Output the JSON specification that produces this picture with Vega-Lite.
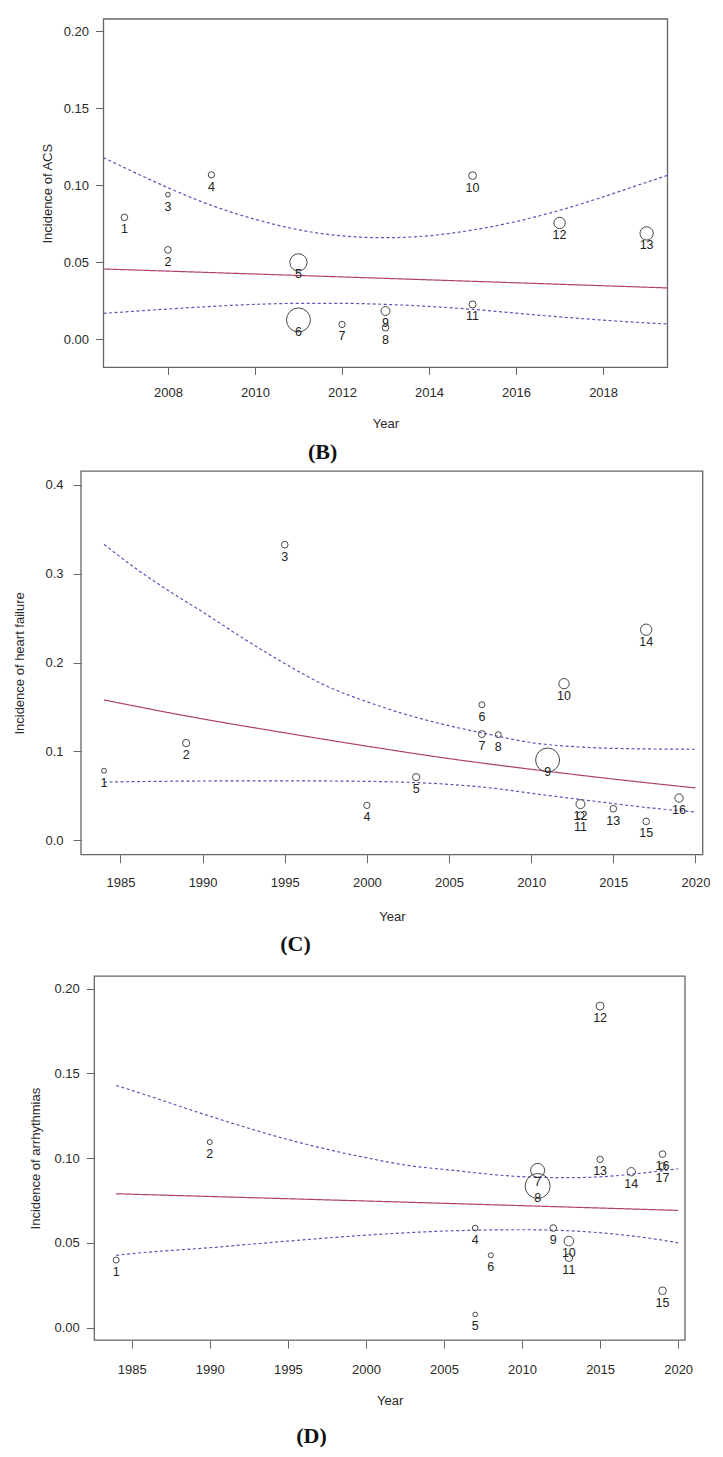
{
  "$schema": "https://vega.github.io/schema/vega-lite/v6.json",
  "background": "white",
  "padding": {"left": 13, "top": 18, "right": 0, "bottom": 0},
  "spacing": 0,
  "config": {
    "view": {"stroke": null, "fill": "white"},
    "axis": {"labelFont": "Liberation Sans", "labelFontSize": 13, "labelColor": "#2a2a2a", "titleFont": "Liberation Sans", "titleFontSize": 13, "titleFontWeight": "normal", "titleColor": "#2a2a2a", "tickColor": "#666666", "tickWidth": 1, "domain": false, "grid": false, "labelFlush": false, "labelOverlap": false},
    "title": {"font": "Liberation Serif", "fontSize": 22, "fontWeight": "bold", "color": "#111111"}
  },
  "resolve": {"scale": {"x": "independent", "y": "independent", "size": "independent", "color": "independent", "strokeDash": "independent"}},
  "datasets": {
    "B_pts": [
      {"id": "1", "year": 2007, "inc": 0.0792, "weight": 2.8},
      {"id": "2", "year": 2008, "inc": 0.0581, "weight": 2.8},
      {"id": "3", "year": 2008, "inc": 0.094, "weight": 1.4},
      {"id": "4", "year": 2009, "inc": 0.1068, "weight": 2.5},
      {"id": "5", "year": 2011, "inc": 0.05, "weight": 18.6},
      {"id": "6", "year": 2011, "inc": 0.0126, "weight": 35.9},
      {"id": "7", "year": 2012, "inc": 0.0097, "weight": 2.5},
      {"id": "8", "year": 2013, "inc": 0.0076, "weight": 2.8},
      {"id": "9", "year": 2013, "inc": 0.0184, "weight": 5.0},
      {"id": "10", "year": 2015, "inc": 0.1063, "weight": 3.7},
      {"id": "11", "year": 2015, "inc": 0.0227, "weight": 3.1},
      {"id": "12", "year": 2017, "inc": 0.0756, "weight": 8.0},
      {"id": "13", "year": 2019, "inc": 0.0688, "weight": 11.0}
    ],
    "B_lines": [
      {"series": "fit", "year": 2006.52, "inc": 0.0457},
      {"series": "fit", "year": 2013, "inc": 0.0396},
      {"series": "fit", "year": 2019.48, "inc": 0.0334},
      {"series": "upper", "year": 2006.52, "inc": 0.118},
      {"series": "upper", "year": 2007, "inc": 0.1115},
      {"series": "upper", "year": 2008, "inc": 0.0985},
      {"series": "upper", "year": 2009, "inc": 0.087},
      {"series": "upper", "year": 2010, "inc": 0.078},
      {"series": "upper", "year": 2011, "inc": 0.0712},
      {"series": "upper", "year": 2012, "inc": 0.0672},
      {"series": "upper", "year": 2013, "inc": 0.066},
      {"series": "upper", "year": 2014, "inc": 0.0673},
      {"series": "upper", "year": 2015, "inc": 0.071},
      {"series": "upper", "year": 2016, "inc": 0.0765},
      {"series": "upper", "year": 2017, "inc": 0.0838},
      {"series": "upper", "year": 2018, "inc": 0.0925},
      {"series": "upper", "year": 2019, "inc": 0.102},
      {"series": "upper", "year": 2019.48, "inc": 0.1065},
      {"series": "lower", "year": 2006.52, "inc": 0.0169},
      {"series": "lower", "year": 2007, "inc": 0.0178},
      {"series": "lower", "year": 2008, "inc": 0.0197},
      {"series": "lower", "year": 2009, "inc": 0.0214},
      {"series": "lower", "year": 2010, "inc": 0.0227},
      {"series": "lower", "year": 2011, "inc": 0.0234},
      {"series": "lower", "year": 2012, "inc": 0.0234},
      {"series": "lower", "year": 2013, "inc": 0.0227},
      {"series": "lower", "year": 2014, "inc": 0.0214},
      {"series": "lower", "year": 2015, "inc": 0.0195},
      {"series": "lower", "year": 2016, "inc": 0.017},
      {"series": "lower", "year": 2017, "inc": 0.0146},
      {"series": "lower", "year": 2018, "inc": 0.0125},
      {"series": "lower", "year": 2019, "inc": 0.0107},
      {"series": "lower", "year": 2019.48, "inc": 0.01}
    ],
    "C_pts": [
      {"id": "1", "year": 1984, "inc": 0.0784, "weight": 1.7},
      {"id": "2", "year": 1989, "inc": 0.1095, "weight": 3.7},
      {"id": "3", "year": 1995, "inc": 0.3326, "weight": 3.1},
      {"id": "4", "year": 2000, "inc": 0.0394, "weight": 2.8},
      {"id": "5", "year": 2003, "inc": 0.0712, "weight": 3.7},
      {"id": "6", "year": 2007, "inc": 0.1526, "weight": 2.5},
      {"id": "7", "year": 2007, "inc": 0.1196, "weight": 3.4},
      {"id": "8", "year": 2008, "inc": 0.1189, "weight": 2.5},
      {"id": "9", "year": 2011, "inc": 0.0904, "weight": 40.1},
      {"id": "10", "year": 2012, "inc": 0.1763, "weight": 7.4},
      {"id": "11", "year": 2013, "inc": 0.0281, "weight": 3.4},
      {"id": "12", "year": 2013, "inc": 0.0408, "weight": 5.6},
      {"id": "13", "year": 2015, "inc": 0.0356, "weight": 3.1},
      {"id": "14", "year": 2017, "inc": 0.237, "weight": 8.9},
      {"id": "15", "year": 2017, "inc": 0.0214, "weight": 3.1},
      {"id": "16", "year": 2019, "inc": 0.0476, "weight": 4.8}
    ],
    "C_lines": [
      {"series": "fit", "year": 1984, "inc": 0.158},
      {"series": "fit", "year": 1989, "inc": 0.14},
      {"series": "fit", "year": 1995, "inc": 0.121},
      {"series": "fit", "year": 2000, "inc": 0.106},
      {"series": "fit", "year": 2005, "inc": 0.092},
      {"series": "fit", "year": 2010, "inc": 0.08},
      {"series": "fit", "year": 2015, "inc": 0.069},
      {"series": "fit", "year": 2020, "inc": 0.059},
      {"series": "upper", "year": 1984, "inc": 0.333},
      {"series": "upper", "year": 1986, "inc": 0.305},
      {"series": "upper", "year": 1988, "inc": 0.28},
      {"series": "upper", "year": 1990, "inc": 0.257},
      {"series": "upper", "year": 1992.5, "inc": 0.227},
      {"series": "upper", "year": 1995, "inc": 0.199},
      {"series": "upper", "year": 1997.5, "inc": 0.174},
      {"series": "upper", "year": 2000, "inc": 0.156},
      {"series": "upper", "year": 2002.5, "inc": 0.141},
      {"series": "upper", "year": 2005, "inc": 0.129},
      {"series": "upper", "year": 2007, "inc": 0.121},
      {"series": "upper", "year": 2010, "inc": 0.11},
      {"series": "upper", "year": 2013, "inc": 0.105},
      {"series": "upper", "year": 2015, "inc": 0.1035},
      {"series": "upper", "year": 2020, "inc": 0.1025},
      {"series": "lower", "year": 1984, "inc": 0.0656},
      {"series": "lower", "year": 1990, "inc": 0.0668},
      {"series": "lower", "year": 1995, "inc": 0.067},
      {"series": "lower", "year": 2000, "inc": 0.0664},
      {"series": "lower", "year": 2003, "inc": 0.065},
      {"series": "lower", "year": 2005, "inc": 0.063},
      {"series": "lower", "year": 2008, "inc": 0.058},
      {"series": "lower", "year": 2010, "inc": 0.053},
      {"series": "lower", "year": 2013, "inc": 0.046},
      {"series": "lower", "year": 2015, "inc": 0.0415},
      {"series": "lower", "year": 2017, "inc": 0.037},
      {"series": "lower", "year": 2020, "inc": 0.032}
    ],
    "D_pts": [
      {"id": "1", "year": 1984, "inc": 0.0399, "weight": 2.4},
      {"id": "2", "year": 1990, "inc": 0.1095, "weight": 1.7},
      {"id": "4", "year": 2007, "inc": 0.0588, "weight": 2.2},
      {"id": "5", "year": 2007, "inc": 0.0078, "weight": 1.5},
      {"id": "6", "year": 2008, "inc": 0.0427, "weight": 1.7},
      {"id": "7", "year": 2011, "inc": 0.0928, "weight": 13.2},
      {"id": "8", "year": 2011, "inc": 0.0836, "weight": 42.2},
      {"id": "9", "year": 2012, "inc": 0.0588, "weight": 3.0},
      {"id": "10", "year": 2013, "inc": 0.0511, "weight": 6.3},
      {"id": "11", "year": 2013, "inc": 0.0413, "weight": 4.0},
      {"id": "12", "year": 2015, "inc": 0.1897, "weight": 4.3},
      {"id": "13", "year": 2015, "inc": 0.0993, "weight": 2.7},
      {"id": "14", "year": 2017, "inc": 0.092, "weight": 4.7},
      {"id": "15", "year": 2019, "inc": 0.0218, "weight": 4.0},
      {"id": "16", "year": 2019, "inc": 0.1024, "weight": 3.0},
      {"id": "17", "year": 2019, "inc": 0.0953, "weight": 3.0}
    ],
    "D_lines": [
      {"series": "fit", "year": 1984, "inc": 0.079},
      {"series": "fit", "year": 2002, "inc": 0.0742},
      {"series": "fit", "year": 2020, "inc": 0.0692},
      {"series": "upper", "year": 1984, "inc": 0.1429},
      {"series": "upper", "year": 1985, "inc": 0.14},
      {"series": "upper", "year": 1990, "inc": 0.1248},
      {"series": "upper", "year": 1995, "inc": 0.111},
      {"series": "upper", "year": 2000, "inc": 0.1003},
      {"series": "upper", "year": 2003, "inc": 0.0953},
      {"series": "upper", "year": 2005, "inc": 0.0934},
      {"series": "upper", "year": 2010, "inc": 0.0891},
      {"series": "upper", "year": 2013, "inc": 0.0885},
      {"series": "upper", "year": 2015, "inc": 0.089},
      {"series": "upper", "year": 2018, "inc": 0.0915},
      {"series": "upper", "year": 2020, "inc": 0.0938},
      {"series": "lower", "year": 1984, "inc": 0.0427},
      {"series": "lower", "year": 1985, "inc": 0.0437},
      {"series": "lower", "year": 1990, "inc": 0.0472},
      {"series": "lower", "year": 1995, "inc": 0.0511},
      {"series": "lower", "year": 2000, "inc": 0.0546},
      {"series": "lower", "year": 2005, "inc": 0.057},
      {"series": "lower", "year": 2010, "inc": 0.0578},
      {"series": "lower", "year": 2013, "inc": 0.0572},
      {"series": "lower", "year": 2015, "inc": 0.056},
      {"series": "lower", "year": 2018, "inc": 0.053},
      {"series": "lower", "year": 2020, "inc": 0.0501}
    ]
  },
  "vconcat": [
    {
      "width": 586.5,
      "height": 348.4,
      "title": {"text": "(B)", "orient": "bottom", "anchor": "start", "align": "center", "dx": 281.5, "offset": 11.5},
      "layer": [
        {
          "data": {"values": [{"x0": 2006.52, "x1": 2019.48, "y0": -0.0182, "y1": 0.208}]},
          "mark": {"type": "rect", "fill": "white", "fillOpacity": 0, "stroke": "#666666", "strokeWidth": 1.3},
          "encoding": {
            "x": {"field": "x0", "type": "quantitative", "scale": {"domain": [2006.52, 2019.48], "range": [22.5, 586.5], "nice": false, "zero": false},
                  "axis": {"title": "Year", "values": [2008, 2010, 2012, 2014, 2016, 2018], "format": "d", "tickSize": 7, "labelPadding": 12.4, "titlePadding": 18}},
            "x2": {"field": "x1"},
            "y": {"field": "y0", "type": "quantitative", "scale": {"domain": [-0.0182, 0.208], "nice": false, "zero": false},
                  "axis": {"title": "Incidence of ACS", "values": [0, 0.05, 0.1, 0.15, 0.2], "format": ".2f", "offset": -22.5, "tickSize": 8, "labelPadding": 7, "titlePadding": 9}},
            "y2": {"field": "y1"}
          }
        },
        {
          "data": {"name": "B_lines"},
          "mark": {"type": "line", "interpolate": "monotone", "strokeWidth": 1.2},
          "encoding": {
            "x": {"field": "year", "type": "quantitative"},
            "y": {"field": "inc", "type": "quantitative"},
            "color": {"field": "series", "type": "nominal", "scale": {"domain": ["fit", "lower", "upper"], "range": ["#b0406e", "#5858b8", "#5858b8"]}, "legend": null},
            "strokeDash": {"field": "series", "type": "nominal", "scale": {"domain": ["fit", "lower", "upper"], "range": [[1, 0], [3, 2.5], [3, 2.5]]}, "legend": null}
          }
        },
        {
          "data": {"name": "B_pts"},
          "mark": {"type": "point", "shape": "circle", "filled": false, "color": "#333333", "strokeWidth": 0.9, "opacity": 1},
          "encoding": {
            "x": {"field": "year", "type": "quantitative"},
            "y": {"field": "inc", "type": "quantitative"},
            "size": {"field": "weight", "type": "quantitative", "scale": {"type": "linear", "domain": [0, 35.9], "range": [0, 576], "zero": true}, "legend": null}
          }
        },
        {
          "data": {"name": "B_pts"},
          "mark": {"type": "text", "dy": 12, "baseline": "middle", "fontSize": 12.5, "font": "Liberation Sans", "fill": "#222222"},
          "encoding": {
            "x": {"field": "year", "type": "quantitative"},
            "y": {"field": "inc", "type": "quantitative"},
            "text": {"field": "id", "type": "nominal"}
          }
        }
      ]
    },
    {
      "width": 621.7,
      "height": 390.7,
      "title": {"text": "(C)", "orient": "bottom", "anchor": "start", "align": "center", "dx": 281.5, "offset": 10.2},
      "layer": [
        {
          "data": {"values": [{"x0": 1982.6, "x1": 2020.44, "y0": -0.0161, "y1": 0.4154}]},
          "mark": {"type": "rect", "fill": "white", "fillOpacity": 0, "stroke": "#666666", "strokeWidth": 1.3},
          "encoding": {
            "x": {"field": "x0", "type": "quantitative", "scale": {"domain": [1982.6, 2020.44], "nice": false, "zero": false},
                  "axis": {"title": "Year", "values": [1985, 1990, 1995, 2000, 2005, 2010, 2015, 2020], "format": "d", "tickSize": 8, "labelPadding": 14, "titlePadding": 21}},
            "x2": {"field": "x1"},
            "y": {"field": "y0", "type": "quantitative", "scale": {"domain": [-0.0161, 0.4154], "range": [390.7, 7.1], "nice": false, "zero": false},
                  "axis": {"title": "Incidence of heart failure", "values": [0, 0.1, 0.2, 0.3, 0.4], "format": ".1f", "tickSize": 8, "labelPadding": 10, "titlePadding": 18}},
            "y2": {"field": "y1"}
          }
        },
        {
          "data": {"name": "C_lines"},
          "mark": {"type": "line", "interpolate": "monotone", "strokeWidth": 1.2},
          "encoding": {
            "x": {"field": "year", "type": "quantitative"},
            "y": {"field": "inc", "type": "quantitative"},
            "color": {"field": "series", "type": "nominal", "scale": {"domain": ["fit", "lower", "upper"], "range": ["#b0406e", "#5858b8", "#5858b8"]}, "legend": null},
            "strokeDash": {"field": "series", "type": "nominal", "scale": {"domain": ["fit", "lower", "upper"], "range": [[1, 0], [3, 2.5], [3, 2.5]]}, "legend": null}
          }
        },
        {
          "data": {"name": "C_pts"},
          "mark": {"type": "point", "shape": "circle", "filled": false, "color": "#333333", "strokeWidth": 0.9, "opacity": 1},
          "encoding": {
            "x": {"field": "year", "type": "quantitative"},
            "y": {"field": "inc", "type": "quantitative"},
            "size": {"field": "weight", "type": "quantitative", "scale": {"type": "linear", "domain": [0, 40.1], "range": [0, 576], "zero": true}, "legend": null}
          }
        },
        {
          "data": {"name": "C_pts"},
          "mark": {"type": "text", "dy": 12, "baseline": "middle", "fontSize": 12.5, "font": "Liberation Sans", "fill": "#222222"},
          "encoding": {
            "x": {"field": "year", "type": "quantitative"},
            "y": {"field": "inc", "type": "quantitative"},
            "text": {"field": "id", "type": "nominal"}
          }
        }
      ]
    },
    {
      "width": 604,
      "height": 385.1,
      "title": {"text": "(D)", "orient": "bottom", "anchor": "start", "align": "center", "dx": 281.5, "offset": 18},
      "layer": [
        {
          "data": {"values": [{"x0": 1982.6, "x1": 2020.44, "y0": -0.0073, "y1": 0.2074}]},
          "mark": {"type": "rect", "fill": "white", "fillOpacity": 0, "stroke": "#666666", "strokeWidth": 1.3},
          "encoding": {
            "x": {"field": "x0", "type": "quantitative", "scale": {"domain": [1982.6, 2020.44], "range": [13.3, 604], "nice": false, "zero": false},
                  "axis": {"title": "Year", "values": [1985, 1990, 1995, 2000, 2005, 2010, 2015, 2020], "format": "d", "tickSize": 8, "labelPadding": 15, "titlePadding": 18.8}},
            "x2": {"field": "x1"},
            "y": {"field": "y0", "type": "quantitative", "scale": {"domain": [-0.0073, 0.2074], "range": [385.1, 21.1], "nice": false, "zero": false},
                  "axis": {"title": "Incidence of arrhythmias", "values": [0, 0.05, 0.1, 0.15, 0.2], "format": ".2f", "offset": -13.3, "tickSize": 8, "labelPadding": 7, "titlePadding": 11}},
            "y2": {"field": "y1"}
          }
        },
        {
          "data": {"name": "D_lines"},
          "mark": {"type": "line", "interpolate": "monotone", "strokeWidth": 1.2},
          "encoding": {
            "x": {"field": "year", "type": "quantitative"},
            "y": {"field": "inc", "type": "quantitative"},
            "color": {"field": "series", "type": "nominal", "scale": {"domain": ["fit", "lower", "upper"], "range": ["#b0406e", "#5858b8", "#5858b8"]}, "legend": null},
            "strokeDash": {"field": "series", "type": "nominal", "scale": {"domain": ["fit", "lower", "upper"], "range": [[1, 0], [3, 2.5], [3, 2.5]]}, "legend": null}
          }
        },
        {
          "data": {"name": "D_pts"},
          "mark": {"type": "point", "shape": "circle", "filled": false, "color": "#333333", "strokeWidth": 0.9, "opacity": 1},
          "encoding": {
            "x": {"field": "year", "type": "quantitative"},
            "y": {"field": "inc", "type": "quantitative"},
            "size": {"field": "weight", "type": "quantitative", "scale": {"type": "linear", "domain": [0, 42.2], "range": [0, 625], "zero": true}, "legend": null}
          }
        },
        {
          "data": {"name": "D_pts"},
          "mark": {"type": "text", "dy": 12, "baseline": "middle", "fontSize": 12.5, "font": "Liberation Sans", "fill": "#222222"},
          "encoding": {
            "x": {"field": "year", "type": "quantitative"},
            "y": {"field": "inc", "type": "quantitative"},
            "text": {"field": "id", "type": "nominal"}
          }
        }
      ]
    }
  ]
}
